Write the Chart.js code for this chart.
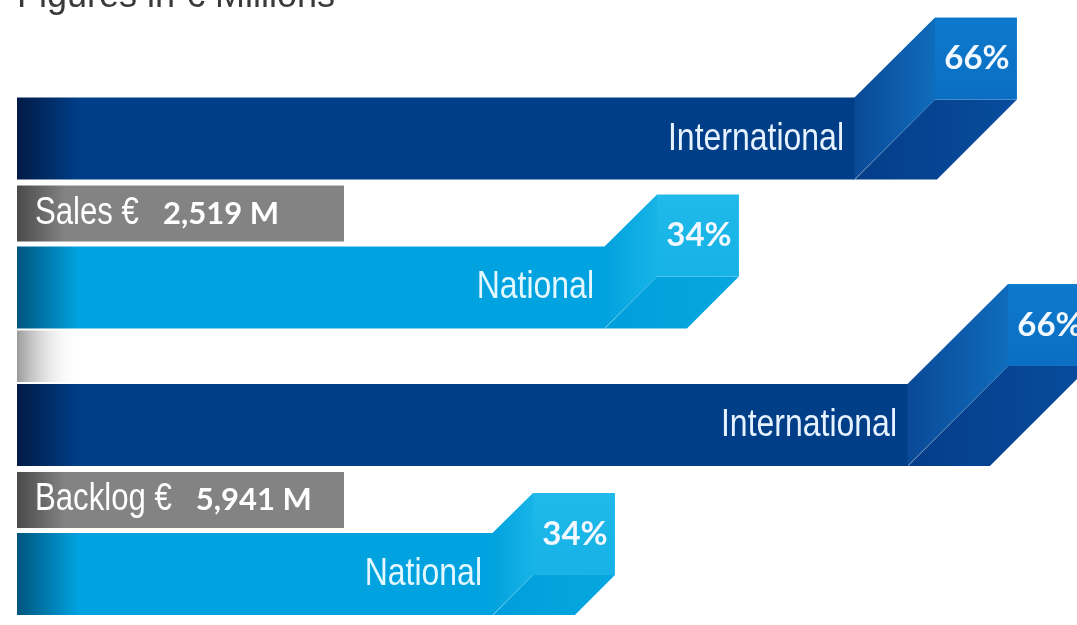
<!DOCTYPE html>
<html>
<head>
<meta charset="utf-8">
<script src="https://cdn.jsdelivr.net/npm/chart.js@4"></script>
<style>
  html, body { margin: 0; padding: 0; background: #fff; }
  canvas { display: block; }
</style>
</head>
<body>
<canvas id="chart" width="1077" height="625"></canvas>
<script>
// Figures in € Millions
const categories = ['Sales', 'Backlog'];
const totals = ['2,519', '5,941'];
const seriesNames = ['International', 'National'];
const internationalShare = [66, 66];
const nationalShare = [34, 34];
// bar lengths as drawn in the infographic (they are not to scale with the totals)
const internationalLength = [838, 891];
const nationalLength = [588, 476];

const SANS = "'Liberation Sans', Arial, sans-serif";
const BOLD = "Lato, 'Open Sans', sans-serif";

// no narrow face installed, so squeeze Liberation Sans horizontally
function narrowText(ctx, text, x, y, size, align) {
    ctx.save();
    ctx.font = size + 'px ' + SANS;
    ctx.textAlign = align;
    ctx.textBaseline = 'alphabetic';
    ctx.translate(x, y);
    ctx.scale(0.82, 1);
    ctx.fillText(text, 0, 0);
    const w = ctx.measureText(text).width * 0.82;
    ctx.restore();
    return w;
}

// dark shading on the left end of every bar
function leftShade(chart, dark, base) {
    const area = chart.chartArea;
    if (!area) return base;
    const g = chart.ctx.createLinearGradient(area.left, 0, area.left + 62, 0);
    g.addColorStop(0, dark);
    g.addColorStop(1, base);
    return g;
}

function hGrad(ctx, x0, x1, c0, c1) {
    const g = ctx.createLinearGradient(x0, 0, x1, 0);
    g.addColorStop(0, c0);
    g.addColorStop(1, c1);
    return g;
}

function vGrad(ctx, y0, y1, c0, c1) {
    const g = ctx.createLinearGradient(0, y0, 0, y1);
    g.addColorStop(0, c0);
    g.addColorStop(1, c1);
    return g;
}

// title, grey total boxes and the folded 3D bar ends
const foldPlugin = {
    id: 'fold',
    beforeDatasetsDraw(chart) {
        const ctx = chart.ctx;
        const left = chart.chartArea.left;
        const intl = chart.getDatasetMeta(0).data;
        const nat = chart.getDatasetMeta(1).data;

        ctx.save();
        ctx.fillStyle = '#3a3a3a';
        ctx.font = '36px ' + SANS;
        ctx.textBaseline = 'alphabetic';
        ctx.fillText('Figures in € Millions', 17, 7);

        nat.forEach((bar, i) => {
            const top = bar.y - bar.height / 2;
            const by = top - 61;
            ctx.fillStyle = hGrad(ctx, left, left + 48, '#4a4a4a', '#838383');
            ctx.fillRect(left, by, 327, 56);

            ctx.fillStyle = '#ffffff';
            const w1 = narrowText(ctx, categories[i] + ' €', left + 18, by + 38, 38, 'left');
            ctx.font = 'bold 31px ' + BOLD;
            ctx.textAlign = 'left';
            ctx.textBaseline = 'alphabetic';
            ctx.fillText(totals[i] + ' M', left + 18 + w1 + 24, by + 38);

            const next = intl[i + 1];
            if (next) {
                const y0 = bar.y + bar.height / 2 + 2;
                const y1 = next.y - next.height / 2 - 2;
                ctx.fillStyle = hGrad(ctx, left, left + 62, 'rgba(130,130,130,0.8)', 'rgba(255,255,255,0)');
                ctx.fillRect(left, y0, 62, y1 - y0);
            }
        });
        ctx.restore();
    },
    afterDatasetsDraw(chart, args, opts) {
        const ctx = chart.ctx;
        ctx.save();
        chart.data.datasets.forEach((ds, di) => {
            const pal = opts.palettes[di];
            const shares = di === 0 ? internationalShare : nationalShare;
            chart.getDatasetMeta(di).data.forEach((bar, i) => {
                const p = bar.getProps(['x', 'y', 'height'], true);
                const x = p.x, h = p.height;
                const yt = p.y - h / 2, yb = p.y + h / 2;
                const d = opts.depth[di][i];

                // ramp face
                ctx.fillStyle = hGrad(ctx, x, x + d, pal.ramp[0], pal.ramp[1]);
                ctx.beginPath();
                ctx.moveTo(x - 0.5, yt);
                ctx.lineTo(x + d, yt - d);
                ctx.lineTo(x + d, yb - d);
                ctx.lineTo(x - 0.5, yb);
                ctx.closePath();
                ctx.fill();

                // lower face
                ctx.fillStyle = hGrad(ctx, x, x + d + h, pal.lower[0], pal.lower[1]);
                ctx.beginPath();
                ctx.moveTo(x, yb);
                ctx.lineTo(x + d, yb - d);
                ctx.lineTo(x + d + h, yb - d);
                ctx.lineTo(x + h, yb);
                ctx.closePath();
                ctx.fill();

                // front square
                ctx.fillStyle = vGrad(ctx, yt - d, yb - d, pal.square[0], pal.square[1]);
                ctx.fillRect(x + d, yt - d, h, h);

                // share
                ctx.fillStyle = '#f2f8ff';
                ctx.font = 'bold 33px ' + BOLD;
                ctx.textAlign = 'center';
                ctx.textBaseline = 'middle';
                ctx.fillText(shares[i] + '%', x + d + h / 2 + 1, p.y - d);

                // series name inside the bar
                ctx.fillStyle = pal.text;
                narrowText(ctx, ds.label, x - 11, p.y + 11, 39, 'right');
            });
        });
        ctx.restore();
    }
};

new Chart(document.getElementById('chart'), {
    type: 'bar',
    data: {
        labels: categories,
        datasets: [{
            label: seriesNames[0],
            data: internationalLength,
            backgroundColor: c => leftShade(c.chart, '#011a45', '#003e88'),
            borderWidth: 0,
            clip: false
        }, {
            label: seriesNames[1],
            data: nationalLength,
            backgroundColor: c => leftShade(c.chart, '#00557f', '#00a3e0'),
            borderWidth: 0,
            clip: false
        }]
    },
    options: {
        indexAxis: 'y',
        responsive: false,
        animation: false,
        categoryPercentage: 1.04,
        barPercentage: 0.55,
        layout: {
            padding: { left: 17, right: 0, top: 213, bottom: 125.5 }
        },
        scales: {
            x: { type: 'linear', min: 0, max: 1060, display: false },
            y: { type: 'category', offset: false, display: false }
        },
        plugins: {
            legend: { display: false },
            tooltip: { enabled: false },
            title: { display: false },
            fold: {
                depth: [[80, 100], [52, 40]],
                palettes: [{
                    ramp: ['#0a4996', '#0f6cbc'],
                    lower: ['#043d89', '#084c9d'],
                    square: ['#0d79cc', '#0a6fc3'],
                    text: '#e6f2ff'
                }, {
                    ramp: ['#02a2de', '#17b4e7'],
                    lower: ['#009fdb', '#06a7e1'],
                    square: ['#1fbaea', '#17b2e6'],
                    text: '#e2f7ff'
                }]
            }
        }
    },
    plugins: [foldPlugin]
});
</script>
</body>
</html>
